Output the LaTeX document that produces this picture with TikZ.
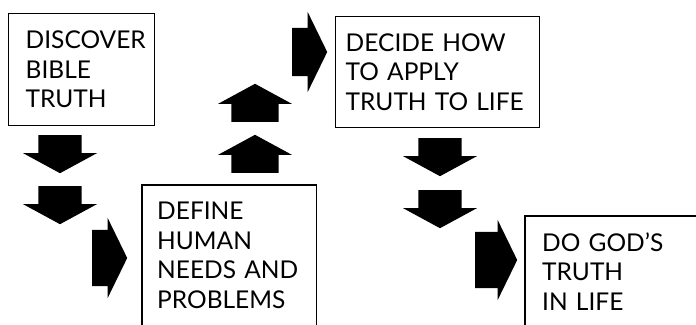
\documentclass[tikz,border=0pt]{standalone}
\usepackage{fontspec}
\setmainfont{Lato}
\usetikzlibrary{shapes.arrows}

\begin{document}
\begin{tikzpicture}[x=1pt, y=-1pt,
      card/.style={anchor=north west, align=left, inner ysep=0pt,
                   font=\fontsize{24.5}{29.5}\selectfont},
      frame/.style={line width=1.4pt},
      blk/.style={single arrow, fill=black, inner sep=0pt, anchor=tail,
                  single arrow head indent=0pt},
      down/.style={blk, shape border rotate=270, minimum height=38pt,
                   inner xsep=21.5pt, minimum width=74pt,
                   single arrow head extend=15.5pt, single arrow tip angle=123},
      up/.style={blk, shape border rotate=90, minimum height=38pt,
                 inner xsep=23.5pt, minimum width=74pt,
                 single arrow head extend=13.5pt, single arrow tip angle=123},
      right/.style={blk, inner ysep=28pt, minimum width=80pt,
                    single arrow head extend=12pt, single arrow tip angle=128}]
      \useasboundingbox (0,0) rectangle (696,324);
      \node[card, draw, frame, text width=112pt, inner xsep=17pt,
            minimum height=112pt] (discover) at (8,13)
            {DISCOVER\\BIBLE\\TRUTH};
      \node[card, text width=144pt, inner xsep=15pt,
            minimum height=140pt] (define) at (142,185)
            {DEFINE\\HUMAN\\NEEDS AND\\PROBLEMS};
      \node[card, draw, frame, text width=184pt, inner xsep=10pt,
            minimum height=111pt] (decide) at (335,16)
            {DECIDE HOW\\TO APPLY\\TRUTH TO LIFE};
      \node[card, text width=156pt, inner xsep=17pt,
            minimum height=110pt] (dogods) at (525,216)
            {DO GOD'S\\TRUTH\\IN LIFE};
      \draw[frame] (define.south west) |- (define.north east) -- (define.south east);
      \draw[frame] (dogods.south west) |- (dogods.north east);
      \node[down] (d1) at (60,135) {};
      \node[down] (d2) at (60,186) {};
      \node[right, minimum height=35pt] (r1) at (92,258) {};
      \node[up] (u1) at (255,122) {};
      \node[up] (u2) at (255,173) {};
      \node[right, minimum height=35pt, inner ysep=24pt,
            single arrow head extend=16pt] (r2) at (292,52) {};
      \node[down] (d3) at (440,138) {};
      \node[down] (d4) at (440,190) {};
      \node[right, minimum height=42pt] (r3) at (475,260) {};
\end{tikzpicture}
\end{document}
